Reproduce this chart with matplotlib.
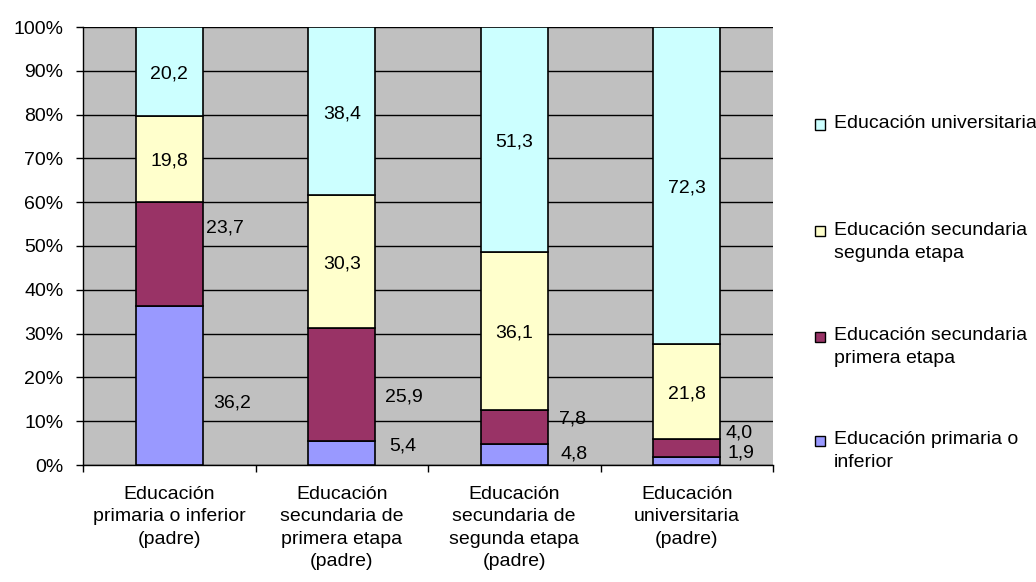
import matplotlib
matplotlib.use("Agg")
import matplotlib.pyplot as plt
import numpy as np
from matplotlib.patches import Rectangle

plt.rcParams['font.family'] = ['Liberation Sans', 'DejaVu Sans']

# Categories (father's education level)
categories = [
    "Educación\nprimaria o inferior\n(padre)",
    "Educación\nsecundaria de\nprimera etapa\n(padre)",
    "Educación\nsecundaria de\nsegunda etapa\n(padre)",
    "Educación\nuniversitaria\n(padre)",
]

# Series (stacked bottom to top), values in %
series_names = [
    "Educación primaria o\ninferior",
    "Educación secundaria\nprimera etapa",
    "Educación secundaria\nsegunda etapa",
    "Educación universitaria",
]
primaria = [36.2, 5.4, 4.8, 1.9]
secundaria_1 = [23.7, 25.9, 7.8, 4.0]
secundaria_2 = [19.8, 30.3, 36.1, 21.8]
universitaria = [20.2, 38.4, 51.3, 72.3]

# Placement of the labels of the two lower series, drawn beside the bars:
# height on the axis (%) and horizontal gap from the bar edge (pixels)
primaria_label_pos = [14.8, 5.0, 3.0, 3.4]
primaria_label_gap = [10, 14, 13, 7]
secundaria_1_label_pos = [54.7, 16.2, 11.1, 7.8]
secundaria_1_label_gap = [3, 10, 11, 5]

colors = ["#9999FF", "#993366", "#FFFFCC", "#CCFFFF"]
FS = 14
CAP = -0.36 * FS  # shift a baseline down so the capitals are centred
PX = 72 / 100     # points per pixel

data = np.array([primaria, secundaria_1, secundaria_2, universitaria], dtype=float)
shares = data / data.sum(axis=0) * 100  # 100% stacked

fig = plt.figure(figsize=(10.36, 5.82), dpi=100)
W, H = 1036, 582
ax = fig.add_axes([83 / W, 117 / H, 690 / W, 438 / H])
ax.set_facecolor("#C0C0C0")

x = np.arange(len(categories))
width = 0.39
bottom = np.zeros(len(categories))
for i in range(4):
    ax.bar(x, shares[i], width, bottom=bottom, color=colors[i],
           edgecolor="black", linewidth=1.2, zorder=3)
    bottom += shares[i]


def fmt(v):
    return f"{v:.1f}".replace(".", ",")


# Labels: upper two series centred inside, lower two to the right of the bar
cum = np.cumsum(shares, axis=0)
for j in range(len(categories)):
    for i in (2, 3):
        yc = cum[i, j] - shares[i, j] / 2
        ax.annotate(fmt(data[i, j]), (x[j], yc), xytext=(0, CAP),
                    textcoords="offset points", ha="center", va="baseline",
                    fontsize=FS, zorder=4)
    for vals, pos, gap in ((primaria, primaria_label_pos, primaria_label_gap),
                           (secundaria_1, secundaria_1_label_pos, secundaria_1_label_gap)):
        ax.annotate(fmt(vals[j]), (x[j] + width / 2, pos[j]),
                    xytext=(gap[j] * PX, CAP), textcoords="offset points",
                    ha="left", va="baseline", fontsize=FS, zorder=4)

ax.set_xlim(-0.5, len(categories) - 0.5)
ax.set_ylim(0, 100)
ax.set_yticks(np.arange(0, 101, 10))
ax.set_yticklabels([f"{v}%" for v in range(0, 101, 10)], fontsize=FS)
ax.yaxis.grid(True, color="black", linewidth=1, zorder=1)
ax.set_axisbelow(True)
ax.tick_params(axis="y", length=5, width=1, pad=9, colors="black")

ax.set_xticks(x)
ax.set_xticklabels(categories, fontsize=FS, linespacing=1.42)
ax.set_xticks(np.arange(-0.5, len(categories)), minor=True)
ax.tick_params(axis="x", which="major", length=0, pad=15)
ax.tick_params(axis="x", which="minor", length=5, width=1)

for s in ("top", "right"):
    ax.spines[s].set_visible(False)
for s in ("left", "bottom"):
    ax.spines[s].set_linewidth(1)
    ax.spines[s].set_color("black")

# Legend on the right, top entry = top series; each text line on its own baseline
legend_y = [121.5, 228, 333.5, 437.5]
line_step = 23
for k, i in enumerate([3, 2, 1, 0]):
    yy = legend_y[k]
    fig.patches.append(Rectangle((815 / W, (H - yy - 8) / H), 10 / W, 10 / H,
                                 transform=fig.transFigure, facecolor=colors[i],
                                 edgecolor="black", linewidth=1))
    for n, line in enumerate(series_names[i].split("\n")):
        fig.text(834 / W, (H - yy - 6.7 - n * line_step) / H, line, fontsize=FS,
                 ha="left", va="baseline", transform=fig.transFigure)

fig.savefig("out.png", dpi=100)
